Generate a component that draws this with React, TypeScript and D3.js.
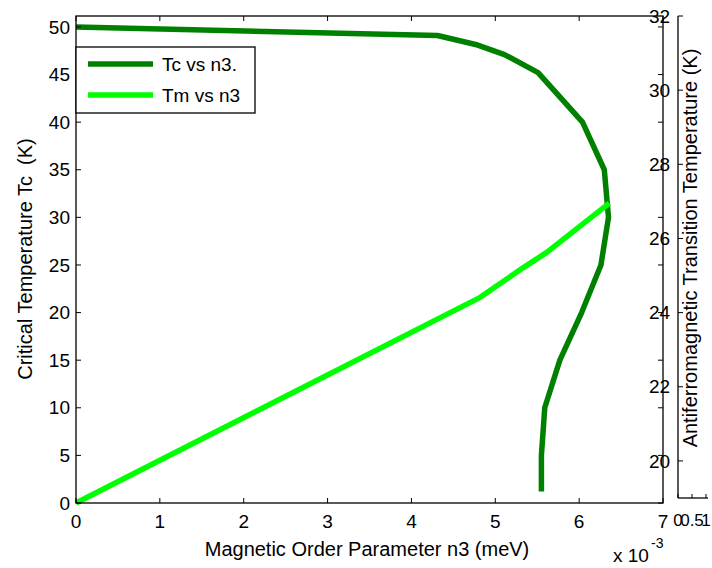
import React from 'react';
import * as d3 from 'd3';

// Tc vs n3 (n3 in units of 1e-3 meV, Tc in K)
const tcN3 = [0, 4.31, 4.79, 5.11, 5.51, 6.04, 6.3, 6.35, 6.26, 6.03, 5.77, 5.59, 5.55, 5.55];
const tcVals = [50, 49.1, 48.1, 47.1, 45.2, 40, 35, 30, 25, 20, 15, 10, 5, 1.2];

// Tm vs n3 (drawn against the left axis)
const tmN3 = [0, 4.82, 5.33, 5.61, 6.36];
const tmVals = [0, 21.6, 24.7, 26.3, 31.5];

const xTicks = [0, 1, 2, 3, 4, 5, 6, 7];
const leftTicks = [0, 5, 10, 15, 20, 25, 30, 35, 40, 45, 50];
const rightTicks = [20, 22, 24, 26, 28, 30, 32];
const extraTicks = [0, 0.5, 1];

const legendItems = ['Tc vs n3.', 'Tm vs n3'];
const colors = ['#008000', '#00ff00'];

const FONT = '"Liberation Sans", Arial, sans-serif';

export default function App() {
  const left = 76, right = 663, top = 16, bottom = 503;
  const x = d3.scaleLinear().domain([0, 7]).range([left, right]);
  const y = d3.scaleLinear().domain([0, 51.15]).range([bottom, top]);
  // second (right) temperature axis
  const y2 = d3.scaleLinear().domain([19, 32]).range([498, 16]);
  // small third axes squeezed on the right
  const x3 = d3.scaleLinear().domain([0, 1]).range([678, 706]);

  const line = d3.line<[number, number]>()
    .x(d => x(d[0]))
    .y(d => y(d[1]));

  const tcPath = line(tcN3.map((v, i) => [v, tcVals[i]] as [number, number])) || '';
  const tmPath = line(tmN3.map((v, i) => [v, tmVals[i]] as [number, number])) || '';

  const tick = 5;

  return (
    <svg width={712} height={568} style={{ position: 'absolute', left: 0, top: 0, background: '#fff' }}
      fontFamily={FONT} fontSize={19}>
      <rect x={0} y={0} width={712} height={568} fill="#fff" />

      {/* data */}
      <path d={tcPath} fill="none" stroke={colors[0]} strokeWidth={5.5} strokeLinejoin="round" />
      <path d={tmPath} fill="none" stroke={colors[1]} strokeWidth={5.5} strokeLinejoin="round" />

      {/* box */}
      <rect x={left} y={top} width={right - left} height={bottom - top} fill="none" stroke="#000" strokeWidth={1.3} />

      {/* x ticks */}
      {xTicks.map(t => (
        <g key={'x' + t}>
          <line x1={x(t)} x2={x(t)} y1={bottom} y2={bottom - tick} stroke="#000" />
          <line x1={x(t)} x2={x(t)} y1={top} y2={top + tick} stroke="#000" />
          <text x={x(t)} y={528} textAnchor="middle">{t}</text>
        </g>
      ))}

      {/* left ticks */}
      {leftTicks.map(t => (
        <g key={'y' + t}>
          <line x1={left} x2={left + tick} y1={y(t)} y2={y(t)} stroke="#000" />
          <line x1={right} x2={right - tick} y1={y(t)} y2={y(t)} stroke="#000" />
          <text x={70} y={y(t)} dy="0.35em" textAnchor="end">{t}</text>
        </g>
      ))}

      {/* right temperature axis labels */}
      {rightTicks.map(t => (
        <text key={'r' + t} x={649} y={y2(t)} dy="0.35em">{t}</text>
      ))}

      {/* third axes */}
      <line x1={678} x2={678} y1={16} y2={498} stroke="#000" strokeWidth={1.3} />
      <line x1={678} x2={708} y1={498} y2={498} stroke="#000" strokeWidth={1.3} />
      {rightTicks.map(t => (
        <line key={'r3' + t} x1={678} x2={678 + tick} y1={y2(t)} y2={y2(t)} stroke="#000" />
      ))}
      {extraTicks.map(t => (
        <g key={'e' + t}>
          <line x1={x3(t)} x2={x3(t)} y1={498} y2={494} stroke="#000" />
          <text x={x3(t)} y={526} textAnchor="middle" fontSize={17}>{t}</text>
        </g>
      ))}

      {/* axis labels */}
      <text x={367} y={556} textAnchor="middle" fontSize={20}>Magnetic Order Parameter n3 (meV)</text>
      <text x={613} y={562}>x 10</text>
      <text x={651} y={548} fontSize={14}>-3</text>
      <text transform="translate(32,259) rotate(-90)" textAnchor="middle" fontSize={20} xmlSpace="preserve">Critical Temperature Tc  (K)</text>
      <text transform="translate(697,248) rotate(-90)" textAnchor="middle" fontSize={20}>Antiferromagnetic Transition Temperature (K)</text>

      {/* legend */}
      <rect x={76} y={47} width={179} height={66} fill="#fff" stroke="#000" strokeWidth={1.3} />
      {legendItems.map((name, i) => (
        <g key={name}>
          <line x1={88} x2={153} y1={64 + i * 31} y2={64 + i * 31} stroke={colors[i]} strokeWidth={5.5} />
          <text x={162} y={64 + i * 31} dy="0.35em" style={{ whiteSpace: 'pre' }}>{name}</text>
        </g>
      ))}
    </svg>
  );
}
